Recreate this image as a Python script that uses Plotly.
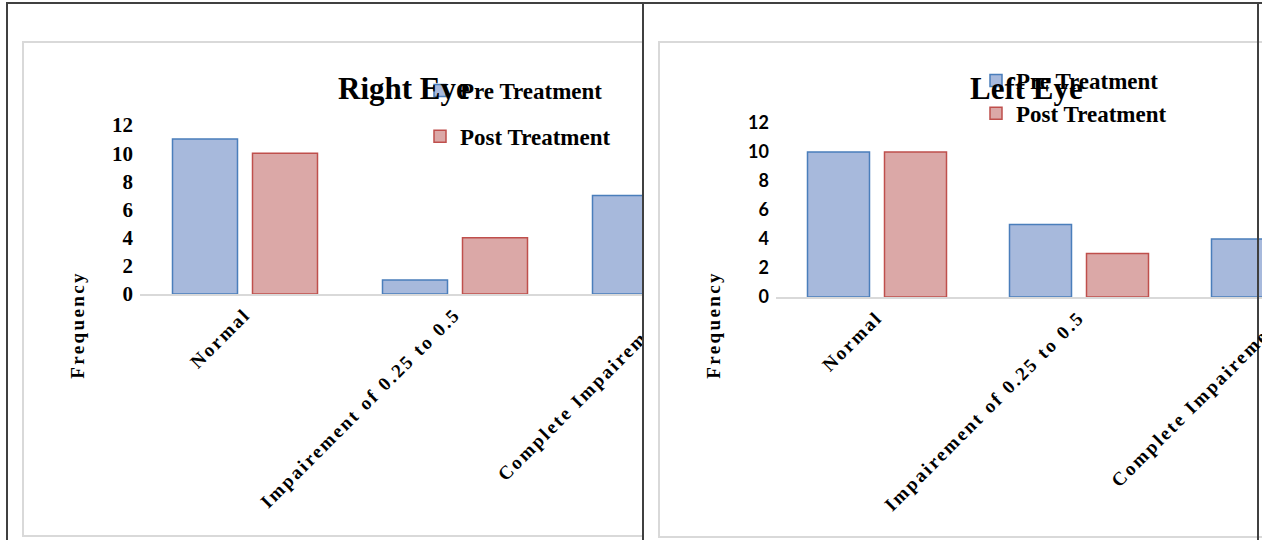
import plotly.graph_objects as go

# ---- data -------------------------------------------------------------
categories = ["Normal", "Impairement of 0.25 to 0.5", "Complete Impairement"]
right_pre = [11, 1, 7]
right_post = [10, 4, 0]
left_pre = [10, 5, 4]
left_post = [10, 3, 0]
y_ticks = [0, 2, 4, 6, 8, 10, 12]
series_names = ["Pre Treatment", "Post Treatment"]
panel_titles = ["Right Eye", "Left Eye"]
y_title = "Frequency"

# ---- page geometry (pixels) ------------------------------------------
W, H = 1262, 540


def px(x):
    return x / W


def py(y):
    return 1 - y / H


SERIF = "Liberation Serif"
SANS = "Lato"
BLUE_FILL, BLUE_LINE = "#a7b9dc", "#4a7ebb"
RED_FILL, RED_LINE = "#dba8a7", "#bf4f4c"
FRAME = "#404040"
BOX = "#d9d9d9"
CAT_SIZE = 19

# plot areas: x pixel span, pixel size of one category, y pixel span
L_X0, L_X1, L_UNIT, L_Y0, L_Y12 = 140, 700, 210, 294, 125
R_X0, R_X1, R_UNIT, R_Y0, R_Y12 = 776, 1262, 202, 297, 123

l_dom = [px(L_X0), px(L_X1)]
l_rng = [-0.5, -0.5 + (L_X1 - L_X0) / L_UNIT]
r_dom = [px(R_X0), px(R_X1)]
r_rng = [-0.5, -0.5 + (R_X1 - R_X0) / R_UNIT]

fig = go.Figure()


def add_pair(pre, post, xa, ya, unit, bar_px, gap_px, legend, tag):
    w = bar_px / unit
    offs = [-(bar_px + gap_px / 2) / unit, (gap_px / 2) / unit]
    styles = [(BLUE_FILL, BLUE_LINE), (RED_FILL, RED_LINE)]
    for name, vals, off, (fc, lc) in zip(series_names, [pre, post], offs, styles):
        fig.add_trace(go.Bar(
            x=categories, y=vals, name=name, xaxis=xa, yaxis=ya,
            width=[w] * len(vals), offset=[off] * len(vals),
            marker=dict(color=fc, line=dict(color=lc, width=1.5)),
            legend=legend, legendgroup=tag + name, showlegend=True,
            hoverinfo="x+y+name",
        ))


add_pair(right_pre, right_post, "x", "y", L_UNIT, 65, 15, "legend", "R")
add_pair(left_pre, left_post, "x2", "y2", R_UNIT, 62, 15, "legend2", "L")

xcommon = dict(
    type="category", tickangle=-45, ticks="", showgrid=False, zeroline=False,
    showline=True, linecolor=BOX, linewidth=1.5, automargin=False,
    tickfont=dict(family=SERIF, size=CAT_SIZE, color="black", weight="bold"),
    fixedrange=True,
)
ycommon = dict(
    tickvals=y_ticks, ticks="", showgrid=False, zeroline=False, showline=False,
    range=[0, 12], fixedrange=True, ticklabelstandoff=6, automargin=False,
)

fig.update_layout(
    template="none",
    width=W, height=H, autosize=False,
    margin=dict(l=0, r=0, t=0, b=0, pad=0, autoexpand=False),
    paper_bgcolor="white", plot_bgcolor="rgba(0,0,0,0)",
    barmode="group", showlegend=True,
    xaxis=dict(domain=l_dom, range=l_rng, anchor="y", **xcommon),
    yaxis=dict(domain=[py(L_Y0), py(L_Y12)], anchor="x",
               tickfont=dict(family=SERIF, size=21, color="black", weight="bold"),
               **ycommon),
    xaxis2=dict(domain=r_dom, range=r_rng, anchor="y2", **xcommon),
    yaxis2=dict(domain=[py(R_Y0), py(R_Y12)], anchor="x2",
                tickfont=dict(family=SANS, size=18, color="black", weight="bold"),
                **ycommon),
    legend=dict(x=px(420), y=py(69), xanchor="left", yanchor="top",
                bgcolor="rgba(0,0,0,0)", traceorder="grouped", tracegroupgap=13,
                font=dict(family=SERIF, size=23, color="black", weight="bold")),
    legend2=dict(x=px(976), y=py(59), xanchor="left", yanchor="top",
                 bgcolor="rgba(0,0,0,0)", traceorder="grouped", tracegroupgap=0,
                 font=dict(family=SERIF, size=23, color="black", weight="bold")),
)

# ---- frames -------------------------------------------------------------
shapes = []
# inner chart-area boxes
shapes.append(dict(type="rect", xref="paper", yref="paper", layer="below",
                   x0=px(23), x1=px(660), y0=py(536), y1=py(42),
                   line=dict(color=BOX, width=2), fillcolor="white"))
# white panel behind the second chart, hiding overflow of the first one
shapes.append(dict(type="rect", xref="paper", yref="paper", layer="above",
                   x0=px(644), x1=px(702), y0=py(540), y1=py(30),
                   line=dict(width=0), fillcolor="white"))
shapes.append(dict(type="rect", xref="paper", yref="paper", layer="above",
                   x0=px(659), x1=px(1270), y0=py(537), y1=py(42),
                   line=dict(color=BOX, width=2), fillcolor="rgba(0,0,0,0)"))
# dark outer frame and divider
for x in (7, 643, 1258):
    shapes.append(dict(type="line", xref="paper", yref="paper", layer="above",
                       x0=px(x), x1=px(x), y0=py(3), y1=py(545),
                       line=dict(color=FRAME, width=2)))
shapes.append(dict(type="line", xref="paper", yref="paper", layer="above",
                   x0=px(6), x1=px(1262), y0=py(3), y1=py(3),
                   line=dict(color=FRAME, width=2)))
fig.update_layout(shapes=shapes)

# ---- text ---------------------------------------------------------------
ann = []
ann.append(dict(text=panel_titles[0], x=px(336), y=py(89), xref="paper", yref="paper",
                xanchor="left", yanchor="middle", showarrow=False,
                font=dict(family=SERIF, size=31, color="black", weight="bold")))
ann.append(dict(text=panel_titles[1], x=px(968), y=py(89), xref="paper", yref="paper",
                xanchor="left", yanchor="middle", showarrow=False,
                font=dict(family=SERIF, size=31, color="black", weight="bold")))
for xc in (77, 713):
    ann.append(dict(text=y_title, x=px(xc), y=py(325), xref="paper", yref="paper",
                    textangle=-90, showarrow=False, xanchor="center", yanchor="middle",
                    font=dict(family=SERIF, size=19, color="black", weight="bold")))

# last category label of the second chart sits past the page edge


def cat_to_paper(i, dom, rng):
    return dom[0] + (i - rng[0]) / (rng[1] - rng[0]) * (dom[1] - dom[0])


ann.append(dict(text=categories[2], x=cat_to_paper(2, r_dom, r_rng) - px(6),
                y=py(R_Y0 + 26), xref="paper", yref="paper", textangle=-45,
                showarrow=False, xanchor="right", yanchor="top",
                font=dict(family=SERIF, size=CAT_SIZE, color="black", weight="bold")))
fig.update_layout(annotations=ann)

spaced = {c: 2.3 for c in categories}
spaced[y_title] = 2.4
post = """
var gd = document.getElementById('{plot_id}');
var sp = %s;
gd.querySelectorAll('text').forEach(function(t){
  var k = t.textContent;
  if (sp.hasOwnProperty(k)) { t.style.letterSpacing = sp[k] + 'px'; }
});
""" % str(spaced).replace("'", '"')

fig.write_html("out.html", post_script=post, config={"displayModeBar": False})
